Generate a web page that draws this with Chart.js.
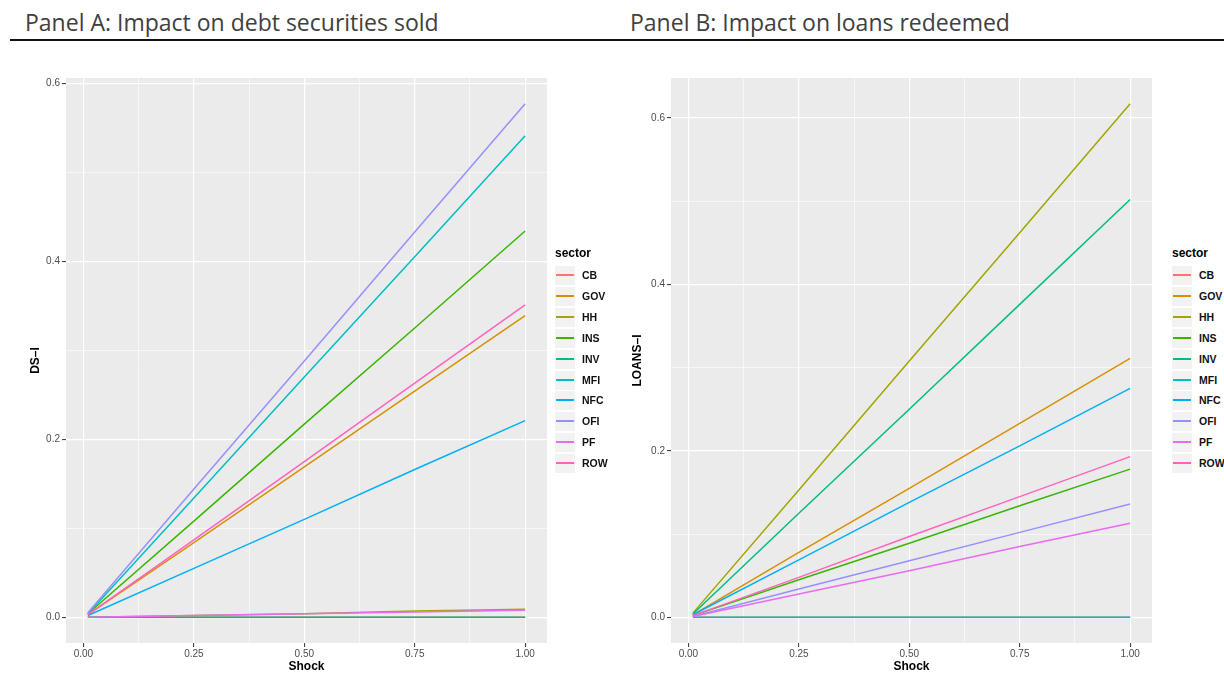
<!DOCTYPE html>
<html>
<head>
<meta charset="utf-8">
<script src="https://cdn.jsdelivr.net/npm/chart.js@4/dist/chart.umd.min.js"></script>
<style>
  body { margin: 0; background: #fff; width: 1224px; height: 674px; position: relative; overflow: hidden; font-family: "Liberation Sans", Arial, sans-serif; }
  .ptitle { position: absolute; top: 6px; font-family: "Open Sans", Lato, sans-serif; font-size: 23px; color: #404040; white-space: nowrap; }
  .rule { position: absolute; left: 10px; right: 0; top: 39px; height: 2px; background: #111; }
  canvas { position: absolute; }
  .legend { position: absolute; width: 60px; height: 230px; }
  .legend .ttl { position: absolute; left: 0; top: 0; font-size: 12px; font-weight: bold; color: #000; line-height: 16px; }
  .legend .key { position: absolute; left: 0; width: 20px; height: 19px; background: #F2F2F2; }
  .legend .key i { position: absolute; left: 1px; width: 18px; top: 8px; height: 2px; }
  .legend .lab { position: absolute; font-size: 10.5px; font-weight: bold; color: #111; line-height: 19px; }
</style>
</head>
<body>
<div class="ptitle" style="left:25px">Panel A: Impact on debt securities sold</div>
<div class="ptitle" style="left:630px">Panel B: Impact on loans redeemed</div>
<div class="rule"></div>

<canvas id="chartA" width="552" height="624" style="left:0px;top:50px"></canvas>
<canvas id="chartB" width="552" height="624" style="left:605px;top:50px"></canvas>
<div class="legend" id="legendA" style="left:555px;top:245px"></div>
<div class="legend" id="legendB" style="left:1172px;top:245px"></div>

<script>
// sectors and ggplot hue colours
var sectors = ['CB', 'GOV', 'HH', 'INS', 'INV', 'MFI', 'NFC', 'OFI', 'PF', 'ROW'];
var colors = ['#F8766D', '#D89000', '#A3A500', '#39B600', '#00BF7D', '#00BFC4', '#00B0F6', '#9590FF', '#E76BF3', '#FF62BC'];

// shock levels (x)
var shock = [0.01, 0.25, 0.50, 0.75, 1.00];

// panel A: debt securities sold (DS-I)
var dsCB  = [0.000, 0.000, 0.000, 0.000, 0.000];
var dsGOV = [0.003, 0.084, 0.169, 0.254, 0.339];
var dsHH  = [0.000, 0.002, 0.004, 0.007, 0.009];
var dsINS = [0.004, 0.108, 0.217, 0.325, 0.434];
var dsINV = [0.000, 0.000, 0.000, 0.000, 0.000];
var dsMFI = [0.004, 0.134, 0.270, 0.405, 0.541];
var dsNFC = [0.002, 0.055, 0.110, 0.166, 0.221];
var dsOFI = [0.005, 0.144, 0.288, 0.433, 0.577];
var dsPF  = [0.000, 0.002, 0.004, 0.006, 0.008];
var dsROW = [0.003, 0.087, 0.175, 0.263, 0.351];

// panel B: loans redeemed (LOANS-I)
var loansCB  = [0.000, 0.000, 0.000, 0.000, 0.000];
var loansGOV = [0.003, 0.078, 0.155, 0.233, 0.311];
var loansHH  = [0.005, 0.153, 0.308, 0.462, 0.617];
var loansINS = [0.002, 0.045, 0.089, 0.134, 0.178];
var loansINV = [0.004, 0.125, 0.250, 0.376, 0.502];
var loansMFI = [0.000, 0.000, 0.000, 0.000, 0.000];
var loansNFC = [0.003, 0.069, 0.138, 0.206, 0.275];
var loansOFI = [0.001, 0.034, 0.068, 0.102, 0.136];
var loansPF  = [0.001, 0.028, 0.056, 0.085, 0.113];
var loansROW = [0.002, 0.048, 0.097, 0.145, 0.193];

// tick marks
var xTicks = [0, 0.25, 0.5, 0.75, 1];
var xTickLabels = ['0.00', '0.25', '0.50', '0.75', '1.00'];
var xMinor = [0.125, 0.375, 0.625, 0.875];
var yTicks = [0, 0.2, 0.4, 0.6];
var yTickLabels = ['0.0', '0.2', '0.4', '0.6'];
var yMinor = [0.1, 0.3, 0.5];

// grey panel background like ggplot
var panelBg = {
  id: 'panelBg',
  beforeDraw: function(chart) {
    var a = chart.chartArea, ctx = chart.ctx;
    ctx.save();
    ctx.fillStyle = '#EBEBEB';
    ctx.fillRect(a.left, a.top, a.right - a.left, a.bottom - a.top);
    ctx.restore();
  }
};

var isMajor = function(list, v) {
  for (var i = 0; i < list.length; i++) {
    if (Math.abs(list[i] - v) < 1e-9) return i;
  }
  return -1;
};

var makeChart = function(id, series, yTitle, yMin, yMax, titlePad) {
  var datasets = [];
  for (var i = 0; i < sectors.length; i++) {
    datasets.push({
      label: sectors[i],
      data: shock.map(function(x, j) { return {x: x, y: series[i][j]}; }),
      borderColor: colors[i],
      backgroundColor: colors[i],
      borderWidth: 1.5,
      pointRadius: 0,
      tension: 0,
      order: sectors.length - 1 - i
    });
  }

  var gridFor = function(major) {
    return {
      color: '#FFFFFF',
      lineWidth: function(c) { return isMajor(major, c.tick.value) >= 0 ? 1.2 : 0.6; },
      tickColor: function(c) { return isMajor(major, c.tick.value) >= 0 ? '#333333' : 'rgba(0,0,0,0)'; },
      tickLength: 4,
      tickWidth: 1,
      drawTicks: true
    };
  };

  return new Chart(document.getElementById(id), {
    type: 'line',
    data: { datasets: datasets },
    plugins: [panelBg],
    options: {
      responsive: false,
      animation: false,
      devicePixelRatio: 1,
      layout: { padding: { top: 28, right: 5, left: 0, bottom: 0 } },
      plugins: { legend: { display: false }, tooltip: { enabled: false } },
      scales: {
        x: {
          type: 'linear',
          min: -0.0395,
          max: 1.0495,
          border: { display: false },
          grid: gridFor(xTicks),
          afterBuildTicks: function(scale) {
            scale.ticks = xTicks.concat(xMinor).sort().map(function(v) { return {value: v}; });
          },
          afterFit: function(scale) { scale.height = 31; },
          ticks: {
            autoSkip: false,
            maxRotation: 0,
            padding: 1,
            color: '#4D4D4D',
            font: { family: '"Liberation Sans", Arial, sans-serif', size: 10 },
            callback: function(v) {
              var k = isMajor(xTicks, v);
              return k >= 0 ? xTickLabels[k] : '';
            }
          },
          title: {
            display: true,
            text: 'Shock',
            color: '#000',
            padding: { top: 0, bottom: 0 },
            font: { family: '"Liberation Sans", Arial, sans-serif', size: 12, weight: 'bold' }
          }
        },
        y: {
          type: 'linear',
          min: yMin,
          max: yMax,
          border: { display: false },
          grid: gridFor(yTicks),
          afterBuildTicks: function(scale) {
            scale.ticks = yTicks.concat(yMinor).sort().map(function(v) { return {value: v}; });
          },
          afterFit: function(scale) { scale.width = 66; },
          ticks: {
            autoSkip: false,
            padding: 2,
            color: '#4D4D4D',
            font: { family: '"Liberation Sans", Arial, sans-serif', size: 10 },
            callback: function(v) {
              var k = isMajor(yTicks, v);
              return k >= 0 ? yTickLabels[k] : '';
            }
          },
          title: {
            display: true,
            text: yTitle,
            color: '#000',
            padding: { top: titlePad, bottom: 0 },
            font: { family: '"Liberation Sans", Arial, sans-serif', size: 12, weight: 'bold' }
          }
        }
      }
    }
  });
};

// html legend built from the chart's datasets, rows on whole pixels
var buildLegend = function(chart, id) {
  var box = document.getElementById(id);
  var html = '<div class="ttl">sector</div>';
  chart.data.datasets.forEach(function(ds, i) {
    var top = Math.round(21 + i * 20.9);
    html += '<div class="key" style="top:' + top + 'px"><i style="background:' + ds.borderColor + '"></i></div>' +
            '<span class="lab" style="left:27px;top:' + top + 'px">' + ds.label + '</span>';
  });
  box.innerHTML = html;
};

var chartA = makeChart('chartA',
  [dsCB, dsGOV, dsHH, dsINS, dsINV, dsMFI, dsNFC, dsOFI, dsPF, dsROW],
  'DS\u2013I', -0.0289, 0.6059, 28);
var chartB = makeChart('chartB',
  [loansCB, loansGOV, loansHH, loansINS, loansINV, loansMFI, loansNFC, loansOFI, loansPF, loansROW],
  'LOANS\u2013I', -0.0309, 0.648, 25);

buildLegend(chartA, 'legendA');
buildLegend(chartB, 'legendB');
</script>
</body>
</html>
